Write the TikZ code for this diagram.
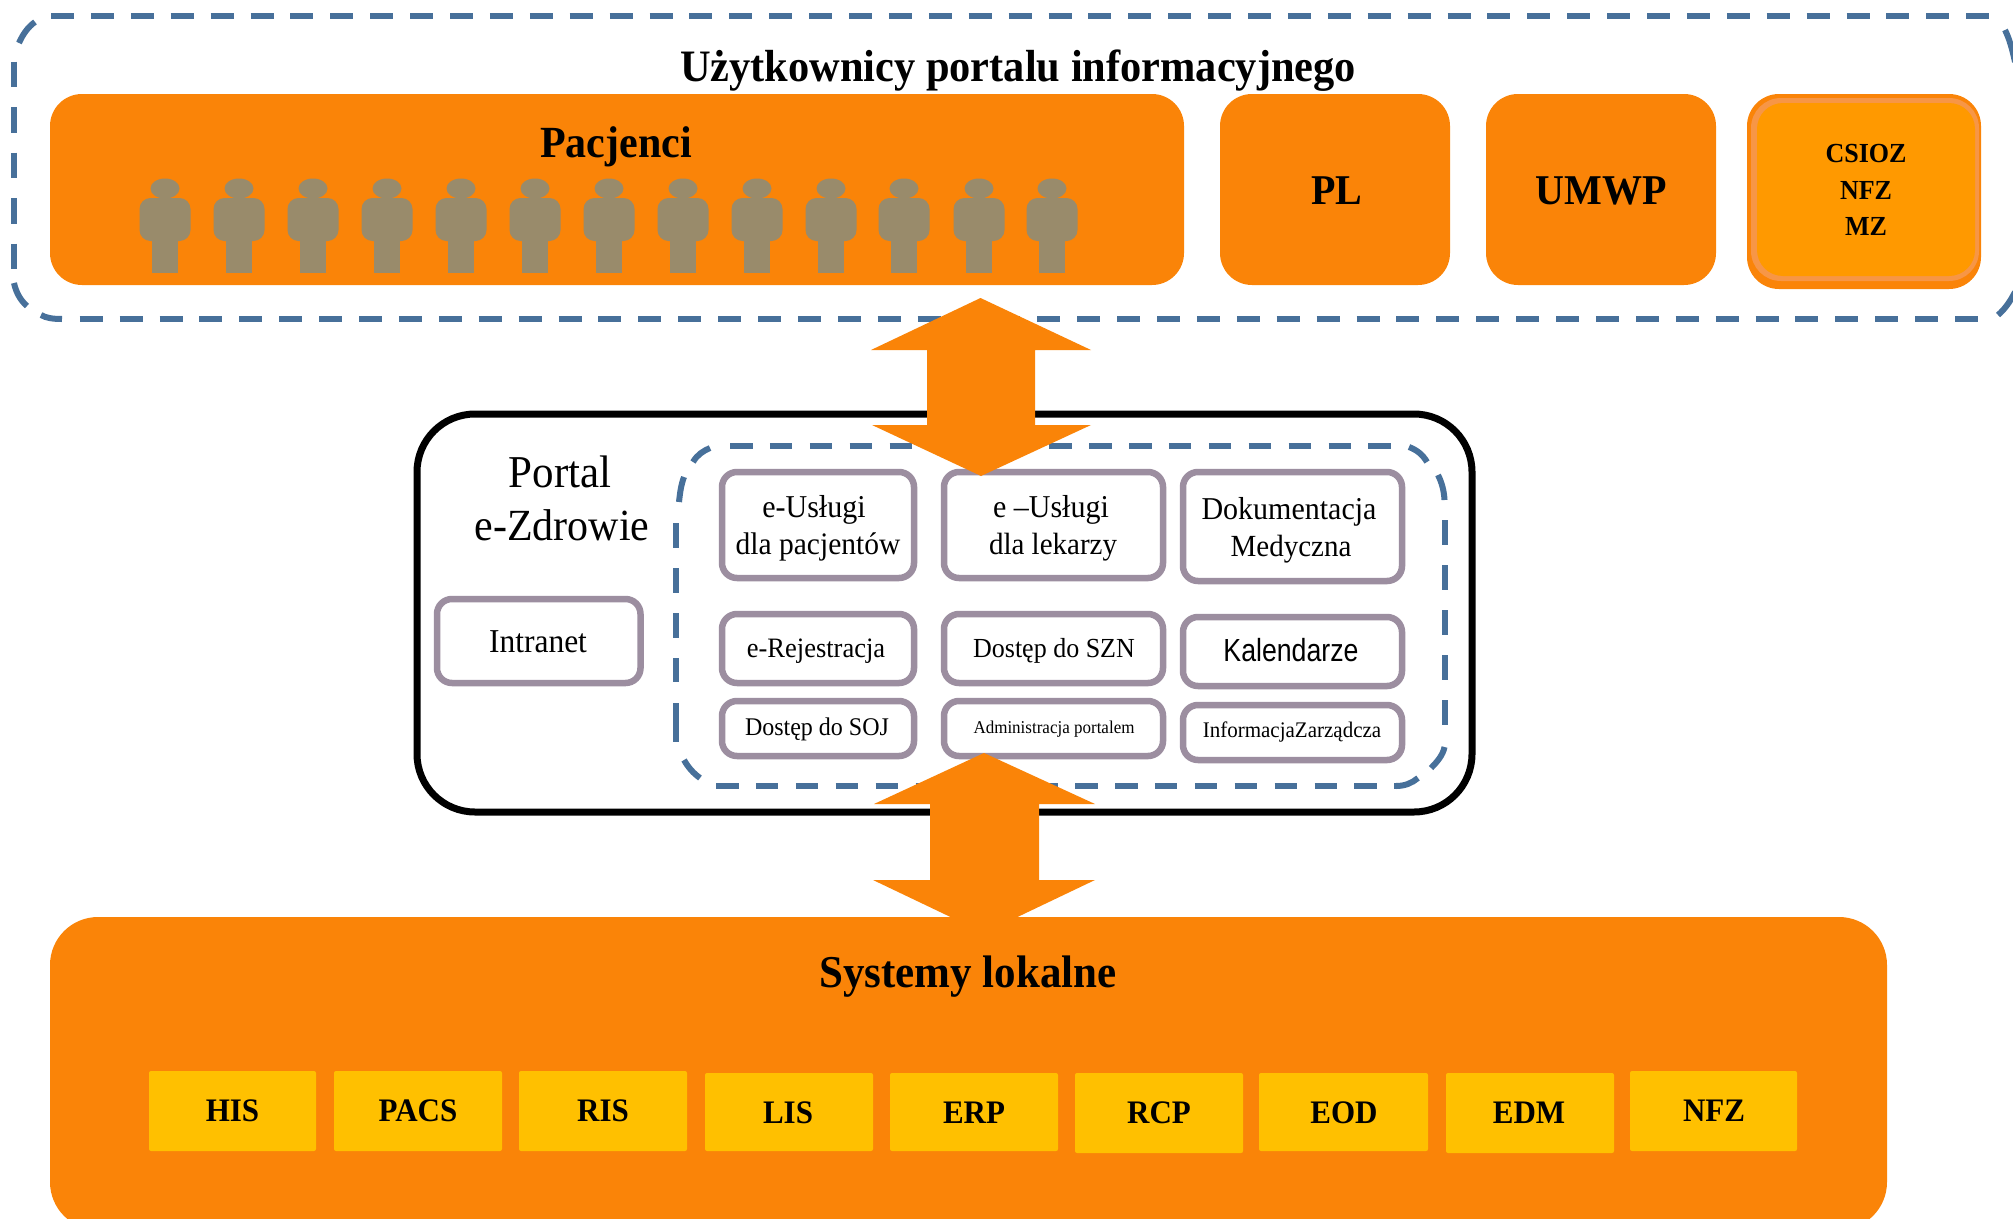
\documentclass[tikz,border=0pt]{standalone}
\usepackage{fontspec}
\setmainfont{Liberation Serif}
\newfontfamily\arialf{Liberation Sans}
\newcommand{\fs}[1]{\fontsize{#1pt}{#1pt}\selectfont}
\definecolor{orangeA}{HTML}{FA8408}
\definecolor{orangeB}{HTML}{F79646}
\definecolor{orangeC}{HTML}{FF9900}
\definecolor{dashblue}{HTML}{47709A}
\definecolor{greyviolet}{HTML}{9C8EA0}
\definecolor{figure}{HTML}{998B6B}
\definecolor{yellowbox}{HTML}{FFC000}
\tikzset{
  txt/.style={anchor=base,inner sep=0pt,outer sep=0pt,text=black,yscale=1.06,transform shape},
  tall/.style={yscale=1.13,transform shape},
  block/.style={inner sep=0pt,outer sep=0pt,rectangle},
  orangebox/.style={block,fill=orangeA,rounded corners=32pt},
  greybox/.style={block,draw=greyviolet,fill=white,line width=6.5pt,rounded corners=15pt},
  sysbox/.style={block,fill=yellowbox,rounded corners=2pt},
  blue/.style={draw=dashblue,line width=6pt},
  bluedashH/.style={blue,dash pattern=on 23pt off 16.9pt},
  bluedashV/.style={blue,dash pattern=on 25.6pt off 19.9pt},
  innerdashH/.style={blue,dash pattern=on 22.5pt off 17.4pt},
  innerdashV/.style={blue,dash pattern=on 25pt off 20pt},
  bigarrow/.style={fill=orangeA},
}
% #1 style, #2 name, x1 y1 x2 y2 = path extents
\newcommand{\bx}[6]{%
  \pgfmathsetmacro\bw{#5-#3}\pgfmathsetmacro\bh{#6-#4}%
  \node[#1,minimum width=\bw pt,minimum height=\bh pt,anchor=north west] (#2) at (#3,#4) {};}
\newcommand{\gbx}[5]{%
  \pgfmathsetmacro\gxa{#2+3}\pgfmathsetmacro\gya{#3+3}\pgfmathsetmacro\gxb{#4-3}\pgfmathsetmacro\gyb{#5-3}%
  \bx{greybox}{#1}{\gxa}{\gya}{\gxb}{\gyb}}
\begin{document}
\begin{tikzpicture}[x=1pt,y=-1pt]
\useasboundingbox (0,0) rectangle (2013,1218);
\clip (0,0) rectangle (2013,1218);
% outer dashed frame
\draw[bluedashH] (51,16) -- (1990,16);
\draw[bluedashH] (79.7,319) -- (1982,319);
\draw[bluedashV] (13.5,61.7) -- (13.5,270);
\draw[blue] (19,43) .. controls (23,34) and (28,27) .. (35,22);
\draw[blue] (14,283) .. controls (16,292) and (20,300) .. (27,306);
\draw[blue] (41,315) .. controls (46,318) and (53,319) .. (62,319);
\draw[blue] (2005,30) .. controls (2009,38) and (2012,48) .. (2015,62);
\draw[blue] (1998,315) .. controls (2004,310) and (2010,302) .. (2015,292);
% user boxes
\bx{orangebox}{pac}{50}{94}{1184}{285}
\bx{orangebox}{pl}{1220}{94}{1450}{285}
\bx{orangebox}{umwp}{1486}{94}{1716}{285}
\bx{orangebox}{csA}{1747}{94}{1981}{289}
\bx{block,fill=orangeB,rounded corners=30pt}{csB}{1751}{98}{1979}{281}
\bx{block,fill=orangeC,rounded corners=26pt}{csC}{1757}{103}{1975}{276}
\node[txt,font=\bfseries\fs{42.4}] (title) at (1018,81.5) {Użytkownicy portalu informacyjnego};
\node[txt,font=\bfseries\fs{42}] (tpac) at (616,157) {Pacjenci};
\node[txt,font=\bfseries\fs{40}] (tpl) at (1337,204) {PL};
\node[txt,font=\bfseries\fs{40}] (tumwp) at (1601,204) {UMWP};
\node[txt,font=\bfseries\fs{26}] (tcs) at (1866,162) {CSIOZ};
\node[txt,font=\bfseries\fs{26}] (tnfz) at (1866,199) {NFZ};
\node[txt,font=\bfseries\fs{26}] (tmz) at (1866,235) {MZ};
% people
\foreach \px in {165,239,313,387,461,535,609,683,757,831,904,979,1052}{
  \fill[figure] (\px,188.5) ellipse [x radius=14.5pt,y radius=10pt];
  \fill[figure] (\px-4,195) rectangle (\px+4,202);
  \fill[figure,rounded corners=11pt] (\px-25.5,198) rectangle (\px+25.5,241);
  \fill[figure] (\px-13,232) rectangle (\px+13,273);
}
% portal frame
\bx{block,draw=black,fill=white,line width=7pt,rounded corners=58pt}{portal}{417}{414}{1472}{812}
% inner dashed frame
\draw[innerdashH] (730,446) -- (1392,446);
\draw[innerdashH] (716,786) -- (1396,786);
\draw[innerdashV] (676,523) -- (676,682);
\draw[blue] (676,703) -- (676,742);
\draw[innerdashV] (1444.5,520) -- (1444.5,727);
\draw[blue] (679,502) .. controls (680,493) and (681,485) .. (684,477);
\draw[blue] (693,462) .. controls (697,455) and (703,451) .. (710,448);
\draw[blue] (684,760) .. controls (688,767) and (693,773) .. (700,778);
\draw[blue] (1409,447) .. controls (1417,450) and (1423,455) .. (1427,462);
\draw[blue] (1438,475) .. controls (1442,483) and (1444,491) .. (1444.5,500);
\draw[blue] (1444.5,747) .. controls (1443,755) and (1437,762) .. (1431,768);
\draw[blue] (1418,778) .. controls (1412,783) and (1405,786) .. (1396,786);
% service boxes
\gbx{b1}{719}{469}{917}{581}
\gbx{b2}{941}{469}{1166}{581}
\gbx{b3}{1180}{469}{1405}{584}
\gbx{b4}{719}{611}{917}{686}
\gbx{b5}{941}{611}{1166}{686}
\gbx{b6}{1180}{614}{1405}{689}
\gbx{b7}{719}{698}{917}{759}
\gbx{b8}{941}{698}{1166}{759}
\gbx{b9}{1180}{702}{1405}{763}
\gbx{b0}{434}{596}{643.5}{686}
\node[txt,font=\fs{43}] (tp1) at (560,487) {Portal};
\node[txt,font=\fs{42}] (tp2) at (562,540) {e-Zdrowie};
\node[txt,font=\fs{30}] (t1a) at (814,517) {e-Usługi};
\node[txt,font=\fs{29.5}] (t1b) at (818,554) {dla pacjentów};
\node[txt,font=\fs{30}] (t2a) at (1051,517) {e –Usługi};
\node[txt,font=\fs{29}] (t2b) at (1053,554) {dla lekarzy};
\node[txt,font=\fs{30}] (t3a) at (1289,519) {Dokumentacja};
\node[txt,font=\fs{29}] (t3b) at (1291,556) {Medyczna};
\node[txt,font=\fs{26.5}] (t4) at (816,657) {e-Rejestracja};
\node[txt,font=\fs{26}] (t5) at (1054,657) {Dostęp do SZN};
\node[txt,tall,font=\arialf\fs{26.7}] (t6) at (1291,661) {Kalendarze};
\node[txt,font=\fs{24}] (t7) at (817,735) {Dostęp do SOJ};
\node[txt,font=\fs{17}] (t8) at (1054,733) {Administracja portalem};
\node[txt,font=\fs{21}] (t9) at (1292,737) {InformacjaZarządcza};
\node[txt,font=\fs{31.5}] (t0) at (538,652) {Intranet};
% bottom block
\bx{block,fill=orangeA,rounded corners=48pt}{sys}{50}{917}{1887}{1230}
\node[txt,font=\bfseries\fs{43}] (tsys) at (968,987) {Systemy lokalne};
\bx{sysbox}{s1}{149}{1071}{316}{1151}
\bx{sysbox}{s2}{334}{1071}{502}{1151}
\bx{sysbox}{s3}{519}{1071}{687}{1151}
\bx{sysbox}{s4}{705}{1073}{873}{1151}
\bx{sysbox}{s5}{890}{1073}{1058}{1151}
\bx{sysbox}{s6}{1075}{1073}{1243}{1153}
\bx{sysbox}{s7}{1259}{1073}{1428}{1151}
\bx{sysbox}{s8}{1446}{1073}{1614}{1153}
\bx{sysbox}{s9}{1630}{1071}{1797}{1151}
\node[txt,font=\bfseries\fs{31}] (ts1) at (232.5,1121) {HIS};
\node[txt,font=\bfseries\fs{31}] (ts2) at (418,1121) {PACS};
\node[txt,font=\bfseries\fs{31}] (ts3) at (603,1121) {RIS};
\node[txt,font=\bfseries\fs{31}] (ts4) at (788,1123) {LIS};
\node[txt,font=\bfseries\fs{31}] (ts5) at (974,1123) {ERP};
\node[txt,font=\bfseries\fs{31}] (ts6) at (1159,1123) {RCP};
\node[txt,font=\bfseries\fs{31}] (ts7) at (1344,1123) {EOD};
\node[txt,font=\bfseries\fs{31}] (ts8) at (1529,1123) {EDM};
\node[txt,font=\bfseries\fs{31}] (ts9) at (1714,1121) {NFZ};
% double block arrows
\fill[bigarrow] (980.5,298) -- (1091,350) -- (1035,350) -- (1035,425) -- (1091,425) -- (981,476)
  -- (872,425) -- (927,425) -- (927,350) -- (871,350) -- cycle;
\fill[bigarrow] (984,753) -- (1095,804) -- (1039,804) -- (1039,880) -- (1095,880) -- (984,933)
  -- (873,880) -- (930,880) -- (930,804) -- (874,804) -- cycle;
\end{tikzpicture}
\end{document}
